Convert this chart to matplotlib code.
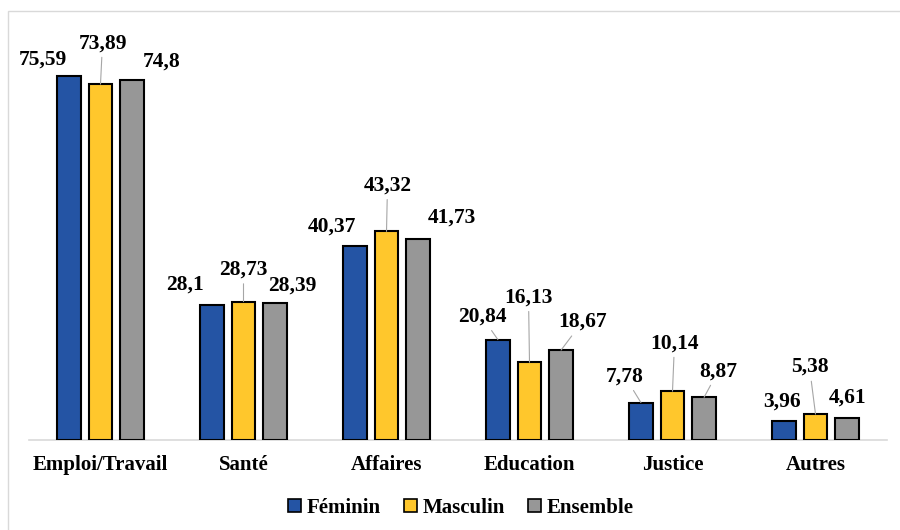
import matplotlib.pyplot as plt
import matplotlib.patches as mpatches
import numpy as np

categories = ["Emploi/Travail", "Santé", "Affaires", "Education", "Justice", "Autres"]
feminin = [75.59, 28.1, 40.37, 20.84, 7.78, 3.96]
masculin = [73.89, 28.73, 43.32, 16.13, 10.14, 5.38]
ensemble = [74.8, 28.39, 41.73, 18.67, 8.87, 4.61]
series_names = ["Féminin", "Masculin", "Ensemble"]
colors = ["#2454A4", "#FFC72C", "#979797"]

# label offsets in pixels from bar top (dx, dy) and whether a leader line is drawn
label_pos = [
    [(-26, 16, False), (2, 41, True), (30, 18, False)],
    [(-27, 20, False), (0, 32, True), (17, 18, False)],
    [(-23, 19, False), (1, 46, True), (34, 21, False)],
    [(-16, 23, True), (-1, 65, True), (21, 28, True)],
    [(-16, 26, True), (2, 48, True), (14, 26, True)],
    [(-2, 19, False), (-6, 47, True), (0, 20, False)],
]

plt.rcParams['font.family'] = ['Liberation Serif', 'DejaVu Serif']

fig = plt.figure(figsize=(9, 5.3), dpi=100)
ax = fig.add_axes([29/900, 1 - 440/530, 858/900, (440 - 21)/530])

x = np.arange(len(categories))
step = 0.221
width = 0.165
data = [feminin, masculin, ensemble]
for k, vals in enumerate(data):
    xs = x + (k - 1) * step
    ax.bar(xs, vals, width, color=colors[k], edgecolor='black', linewidth=1.5, zorder=3)
    for i, v in enumerate(vals):
        dx, dy, line = label_pos[i][k]
        props = dict(arrowstyle='-', color='#A6A6A6', lw=0.8, shrinkA=1, shrinkB=0) if line else None
        ax.annotate(f"{v:g}".replace('.', ','), xy=(xs[i], v), xytext=(dx, dy),
                    textcoords='offset pixels', ha='center', va='center',
                    fontsize=15.5, fontweight='bold', arrowprops=props, zorder=4)

ax.set_xlim(-0.5, len(categories) - 0.5)
ax.set_ylim(0, 87)
ax.set_yticks([])
ax.set_xticks(x)
ax.set_xticklabels(categories, fontsize=15, fontweight='bold')
ax.tick_params(axis='x', length=0, pad=11)
for s in ['top', 'right', 'left']:
    ax.spines[s].set_visible(False)
ax.spines['bottom'].set_color('#D9D9D9')
ax.spines['bottom'].set_linewidth(1.2)
ax.patch.set_alpha(0)

handles = [mpatches.Patch(facecolor=c, edgecolor='black', linewidth=1.2) for c in colors]
fig.legend(handles, series_names, loc='center', bbox_to_anchor=(461/900, 1 - 508/530),
           ncol=3, frameon=False, prop={'size': 15, 'weight': 'bold'},
           handlelength=0.6, handleheight=0.6, handletextpad=0.3, columnspacing=1.1)

border = mpatches.Rectangle((8/900, -0.1), 1.2, (530 - 10.5)/530 + 0.1, transform=fig.transFigure,
                            fill=False, edgecolor='#D9D9D9', linewidth=1)
fig.patches.append(border)

fig.savefig("out.png", dpi=100)
